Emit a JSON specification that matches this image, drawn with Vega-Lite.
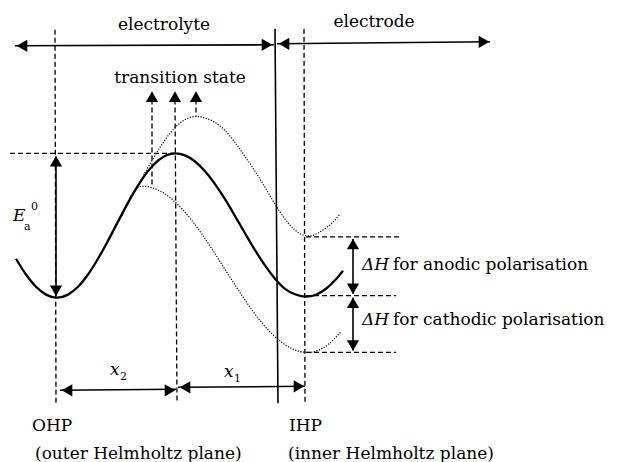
{
  "$schema": "https://vega.github.io/schema/vega-lite/v6.json",
  "width": 617,
  "height": 462,
  "padding": 0,
  "autosize": {"type": "fit", "contains": "padding"},
  "background": "white",
  "config": {"view": {"stroke": null}},
  "datasets": {
    "curves": [
      {"x":16,"y":259.9,"curve":"main"},{"x":26,"y":275.7,"curve":"main"},{"x":36,"y":288,"curve":"main"},{"x":46,"y":295.9,"curve":"main"},{"x":57,"y":299,"curve":"main"},{"x":68,"y":295.9,"curve":"main"},{"x":78,"y":288,"curve":"main"},{"x":88,"y":275.7,"curve":"main"},{"x":98,"y":259.9,"curve":"main"},{"x":108,"y":241.8,"curve":"main"},{"x":118,"y":222.6,"curve":"main"},{"x":128,"y":203.7,"curve":"main"},{"x":138,"y":186.5,"curve":"main"},{"x":148,"y":171.9,"curve":"main"},{"x":158,"y":161.3,"curve":"main"},{"x":167,"y":155.7,"curve":"main"},{"x":175,"y":154,"curve":"main"},{"x":185,"y":156.1,"curve":"main"},{"x":195,"y":162.2,"curve":"main"},{"x":205,"y":172,"curve":"main"},{"x":215,"y":184.9,"curve":"main"},{"x":225,"y":200.1,"curve":"main"},{"x":235,"y":217,"curve":"main"},{"x":245,"y":234.3,"curve":"main"},{"x":255,"y":251.2,"curve":"main"},{"x":265,"y":266.6,"curve":"main"},{"x":275,"y":279.9,"curve":"main"},{"x":285,"y":290.1,"curve":"main"},{"x":295,"y":295.5,"curve":"main"},{"x":306,"y":298,"curve":"main"},{"x":316,"y":296,"curve":"main"},{"x":326,"y":290,"curve":"main"},{"x":336,"y":280.5,"curve":"main"},{"x":343,"y":272,"curve":"main"},
      {"x":122,"y":214,"curve":"upper"},{"x":130,"y":199.6,"curve":"upper"},{"x":140,"y":182.3,"curve":"upper"},{"x":150,"y":164.6,"curve":"upper"},{"x":160,"y":148,"curve":"upper"},{"x":170,"y":133.9,"curve":"upper"},{"x":180,"y":123.6,"curve":"upper"},{"x":188,"y":118.7,"curve":"upper"},{"x":196,"y":117,"curve":"upper"},{"x":205,"y":118.5,"curve":"upper"},{"x":215,"y":123,"curve":"upper"},{"x":225,"y":131,"curve":"upper"},{"x":235,"y":143,"curve":"upper"},{"x":245,"y":157,"curve":"upper"},{"x":255,"y":172,"curve":"upper"},{"x":265,"y":188,"curve":"upper"},{"x":275,"y":205,"curve":"upper"},{"x":285,"y":220,"curve":"upper"},{"x":295,"y":231,"curve":"upper"},{"x":303,"y":236,"curve":"upper"},{"x":310,"y":237,"curve":"upper"},{"x":318,"y":234,"curve":"upper"},{"x":326,"y":229,"curve":"upper"},{"x":333,"y":223,"curve":"upper"},{"x":340,"y":215,"curve":"upper"},
      {"x":122,"y":217,"curve":"lower"},{"x":128,"y":202.2,"curve":"lower"},{"x":135,"y":190.9,"curve":"lower"},{"x":142,"y":187,"curve":"lower"},{"x":152,"y":188.5,"curve":"lower"},{"x":162,"y":192.9,"curve":"lower"},{"x":172,"y":200.1,"curve":"lower"},{"x":182,"y":209.8,"curve":"lower"},{"x":192,"y":221.6,"curve":"lower"},{"x":202,"y":235.2,"curve":"lower"},{"x":212,"y":250.2,"curve":"lower"},{"x":222,"y":265.8,"curve":"lower"},{"x":232,"y":281.5,"curve":"lower"},{"x":242,"y":296.9,"curve":"lower"},{"x":252,"y":311.3,"curve":"lower"},{"x":262,"y":324.3,"curve":"lower"},{"x":272,"y":335.3,"curve":"lower"},{"x":282,"y":344.1,"curve":"lower"},{"x":292,"y":350.2,"curve":"lower"},{"x":300,"y":353.1,"curve":"lower"},{"x":308,"y":354,"curve":"lower"},{"x":318,"y":352,"curve":"lower"},{"x":328,"y":346.1,"curve":"lower"},{"x":341,"y":333,"curve":"lower"}
    ],
    "solidLines": [
      {"x":15,"y":46,"x2":274,"y2":45},
      {"x":277,"y":44,"x2":490,"y2":42},
      {"x":275,"y":29,"x2":278,"y2":405},
      {"x":56,"y":157,"x2":56,"y2":297},
      {"x":353,"y":240,"x2":353,"y2":295},
      {"x":353,"y":299,"x2":353,"y2":352},
      {"x":60,"y":392,"x2":176,"y2":391},
      {"x":178,"y":389,"x2":305,"y2":388}
    ],
    "dashedLines": [
      {"x":55,"y":30,"x2":56,"y2":406},
      {"x":175,"y":100,"x2":177,"y2":405},
      {"x":152,"y":100,"x2":152,"y2":187},
      {"x":196,"y":100,"x2":196,"y2":117},
      {"x":304,"y":29,"x2":305,"y2":405},
      {"x":10,"y":154,"x2":175,"y2":154},
      {"x":306,"y":238,"x2":399,"y2":238},
      {"x":306,"y":297,"x2":396,"y2":297},
      {"x":306,"y":354,"x2":396,"y2":354}
    ],
    "heads": [
      {"x":22,"y":46,"dir":"left"},{"x":267,"y":45,"dir":"right"},{"x":284,"y":44,"dir":"left"},{"x":484,"y":42,"dir":"right"},
      {"x":152,"y":97,"dir":"up"},{"x":175,"y":97,"dir":"up"},{"x":196,"y":97,"dir":"up"},
      {"x":56,"y":162,"dir":"up"},{"x":56,"y":292,"dir":"down"},
      {"x":353,"y":245,"dir":"up"},{"x":353,"y":290,"dir":"down"},{"x":353,"y":304,"dir":"up"},{"x":353,"y":347,"dir":"down"},
      {"x":67,"y":392,"dir":"left"},{"x":170,"y":392,"dir":"right"},{"x":185,"y":389,"dir":"left"},{"x":299,"y":388,"dir":"right"}
    ],
    "centerText": [
      {"x":164,"y":30,"text":"electrolyte"},
      {"x":374,"y":27,"text":"electrode"},
      {"x":180,"y":83,"text":"transition state"}
    ],
    "leftText": [
      {"x":393,"y":271,"text":"for anodic polarisation"},
      {"x":393,"y":326,"text":"for cathodic polarisation"},
      {"x":32,"y":433,"text":"OHP"},
      {"x":35,"y":461,"text":"(outer Helmholtz plane)"},
      {"x":289,"y":433,"text":"IHP"},
      {"x":288,"y":461,"text":"(inner Helmholtz plane)"}
    ],
    "italicText": [
      {"x":362,"y":271,"text":"ΔH"},
      {"x":362,"y":326,"text":"ΔH"},
      {"x":13,"y":222,"text":"E"},
      {"x":110,"y":377,"text":"x"},
      {"x":224,"y":379,"text":"x"}
    ],
    "smallText": [
      {"x":24,"y":231,"text":"a"},
      {"x":31,"y":211,"text":"0"},
      {"x":120,"y":382,"text":"2"},
      {"x":234,"y":384,"text":"1"}
    ]
  },
  "encoding": {
    "x": {"field": "x", "type": "quantitative", "scale": {"domain": [0, 617], "nice": false, "zero": false}, "axis": null},
    "y": {"field": "y", "type": "quantitative", "scale": {"domain": [0, 462], "nice": false, "zero": false, "reverse": true}, "axis": null}
  },
  "layer": [
    {
      "data": {"name": "curves"},
      "transform": [{"filter": "datum.curve === 'main'"}],
      "mark": {"type": "line", "color": "black", "strokeWidth": 2.3, "interpolate": "monotone"}
    },
    {
      "data": {"name": "curves"},
      "transform": [{"filter": "datum.curve !== 'main'"}],
      "mark": {"type": "line", "color": "black", "strokeWidth": 1.2, "strokeDash": [1.2, 1.5], "interpolate": "monotone"},
      "encoding": {"detail": {"field": "curve"}}
    },
    {
      "data": {"name": "solidLines"},
      "mark": {"type": "rule", "color": "black", "strokeWidth": 1.6},
      "encoding": {"x2": {"field": "x2"}, "y2": {"field": "y2"}}
    },
    {
      "data": {"name": "dashedLines"},
      "mark": {"type": "rule", "color": "black", "strokeWidth": 1.3, "strokeDash": [5, 3]},
      "encoding": {"x2": {"field": "x2"}, "y2": {"field": "y2"}}
    },
    {
      "data": {"name": "heads"},
      "mark": {"type": "point", "filled": true, "color": "black", "opacity": 1, "size": 150, "strokeWidth": 0},
      "encoding": {
        "shape": {"field": "dir", "type": "nominal", "legend": null,
          "scale": {"domain": ["up", "down", "left", "right"], "range": ["triangle-up", "triangle-down", "triangle-left", "triangle-right"]}}
      }
    },
    {
      "data": {"name": "centerText"},
      "mark": {"type": "text", "font": "DejaVu Serif", "fontSize": 17, "align": "center", "baseline": "alphabetic", "color": "black"},
      "encoding": {"text": {"field": "text"}}
    },
    {
      "data": {"name": "leftText"},
      "mark": {"type": "text", "font": "DejaVu Serif", "fontSize": 17, "align": "left", "baseline": "alphabetic", "color": "black"},
      "encoding": {"text": {"field": "text"}}
    },
    {
      "data": {"name": "italicText"},
      "mark": {"type": "text", "font": "DejaVu Serif", "fontSize": 17, "fontStyle": "italic", "align": "left", "baseline": "alphabetic", "color": "black"},
      "encoding": {"text": {"field": "text"}}
    },
    {
      "data": {"name": "smallText"},
      "mark": {"type": "text", "font": "DejaVu Serif", "fontSize": 11, "align": "left", "baseline": "alphabetic", "color": "black"},
      "encoding": {"text": {"field": "text"}}
    }
  ]
}
